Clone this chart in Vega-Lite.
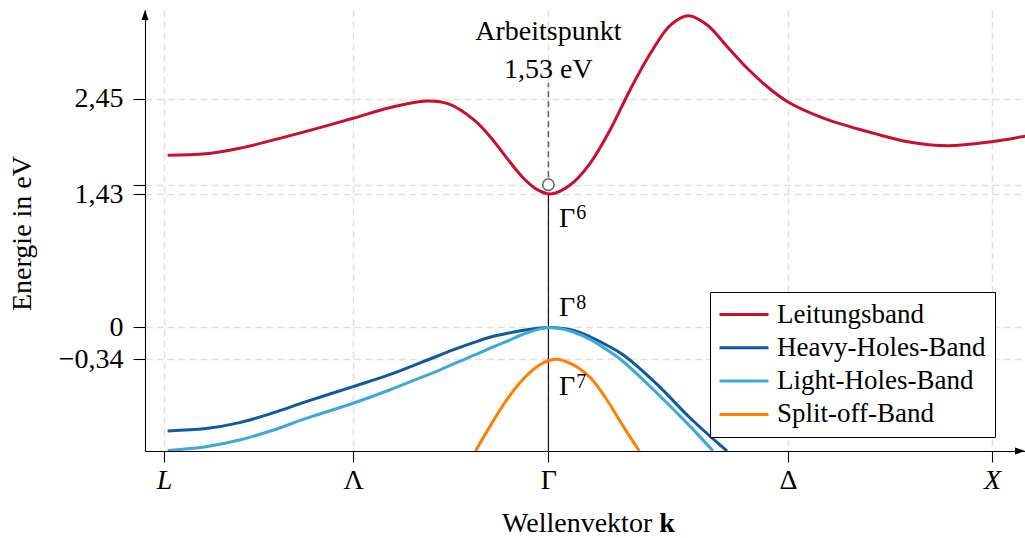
{
  "$schema": "https://vega.github.io/schema/vega-lite/v6.json",
  "width": 880,
  "height": 441,
  "autosize": {"type": "none"},
  "padding": {"left": 145, "top": 10, "right": 0, "bottom": 87},
  "background": "white",
  "config": {
    "font": "Liberation Serif",
    "view": {"stroke": null},
    "axis": {
      "domainColor": "black",
      "domainWidth": 1.1,
      "tickColor": "black",
      "tickWidth": 1.1,
      "gridColor": "#e0e0e0",
      "gridDash": [7, 4],
      "gridWidth": 1.5,
      "labelFont": "Liberation Serif",
      "labelFontSize": 28,
      "labelColor": "black",
      "labelBound": false,
      "labelFlush": false,
      "labelOverlap": false,
      "titleFont": "Liberation Serif",
      "titleFontSize": 28,
      "titleFontWeight": "normal",
      "titleColor": "black"
    }
  },
  "datasets": {
    "bands": [
      {"band": "Leitungsband", "k": -0.858, "E": 1.846},
      {"band": "Leitungsband", "k": -0.772, "E": 1.862},
      {"band": "Leitungsband", "k": -0.696, "E": 1.921},
      {"band": "Leitungsband", "k": -0.621, "E": 2.008},
      {"band": "Leitungsband", "k": -0.546, "E": 2.102},
      {"band": "Leitungsband", "k": -0.440, "E": 2.242},
      {"band": "Leitungsband", "k": -0.358, "E": 2.355},
      {"band": "Leitungsband", "k": -0.275, "E": 2.428},
      {"band": "Leitungsband", "k": -0.222, "E": 2.392},
      {"band": "Leitungsband", "k": -0.169, "E": 2.230},
      {"band": "Leitungsband", "k": -0.132, "E": 2.050},
      {"band": "Leitungsband", "k": -0.094, "E": 1.818},
      {"band": "Leitungsband", "k": -0.056, "E": 1.600},
      {"band": "Leitungsband", "k": -0.026, "E": 1.480},
      {"band": "Leitungsband", "k": 0.005, "E": 1.430},
      {"band": "Leitungsband", "k": 0.049, "E": 1.527},
      {"band": "Leitungsband", "k": 0.094, "E": 1.760},
      {"band": "Leitungsband", "k": 0.139, "E": 2.117},
      {"band": "Leitungsband", "k": 0.184, "E": 2.546},
      {"band": "Leitungsband", "k": 0.230, "E": 2.939},
      {"band": "Leitungsband", "k": 0.275, "E": 3.242},
      {"band": "Leitungsband", "k": 0.316, "E": 3.342},
      {"band": "Leitungsband", "k": 0.358, "E": 3.242},
      {"band": "Leitungsband", "k": 0.403, "E": 3.010},
      {"band": "Leitungsband", "k": 0.448, "E": 2.778},
      {"band": "Leitungsband", "k": 0.493, "E": 2.581},
      {"band": "Leitungsband", "k": 0.539, "E": 2.420},
      {"band": "Leitungsband", "k": 0.621, "E": 2.242},
      {"band": "Leitungsband", "k": 0.734, "E": 2.081},
      {"band": "Leitungsband", "k": 0.810, "E": 1.991},
      {"band": "Leitungsband", "k": 0.900, "E": 1.949},
      {"band": "Leitungsband", "k": 0.998, "E": 1.991},
      {"band": "Leitungsband", "k": 1.077, "E": 2.053},

      {"band": "Heavy-Holes-Band", "k": -0.858, "E": -1.109},
      {"band": "Heavy-Holes-Band", "k": -0.772, "E": -1.084},
      {"band": "Heavy-Holes-Band", "k": -0.696, "E": -1.020},
      {"band": "Heavy-Holes-Band", "k": -0.621, "E": -0.916},
      {"band": "Heavy-Holes-Band", "k": -0.546, "E": -0.795},
      {"band": "Heavy-Holes-Band", "k": -0.440, "E": -0.634},
      {"band": "Heavy-Holes-Band", "k": -0.358, "E": -0.506},
      {"band": "Heavy-Holes-Band", "k": -0.282, "E": -0.366},
      {"band": "Heavy-Holes-Band", "k": -0.207, "E": -0.227},
      {"band": "Heavy-Holes-Band", "k": -0.169, "E": -0.163},
      {"band": "Heavy-Holes-Band", "k": -0.132, "E": -0.105},
      {"band": "Heavy-Holes-Band", "k": -0.094, "E": -0.064},
      {"band": "Heavy-Holes-Band", "k": -0.056, "E": -0.029},
      {"band": "Heavy-Holes-Band", "k": -0.019, "E": -0.005},
      {"band": "Heavy-Holes-Band", "k": 0.0, "E": 0.0},
      {"band": "Heavy-Holes-Band", "k": 0.019, "E": -0.004},
      {"band": "Heavy-Holes-Band", "k": 0.056, "E": -0.030},
      {"band": "Heavy-Holes-Band", "k": 0.094, "E": -0.100},
      {"band": "Heavy-Holes-Band", "k": 0.132, "E": -0.190},
      {"band": "Heavy-Holes-Band", "k": 0.169, "E": -0.295},
      {"band": "Heavy-Holes-Band", "k": 0.245, "E": -0.610},
      {"band": "Heavy-Holes-Band", "k": 0.320, "E": -0.973},
      {"band": "Heavy-Holes-Band", "k": 0.4025, "E": -1.324},

      {"band": "Light-Holes-Band", "k": -0.858, "E": -1.318},
      {"band": "Light-Holes-Band", "k": -0.772, "E": -1.278},
      {"band": "Light-Holes-Band", "k": -0.696, "E": -1.206},
      {"band": "Light-Holes-Band", "k": -0.621, "E": -1.102},
      {"band": "Light-Holes-Band", "k": -0.546, "E": -0.975},
      {"band": "Light-Holes-Band", "k": -0.440, "E": -0.812},
      {"band": "Light-Holes-Band", "k": -0.358, "E": -0.670},
      {"band": "Light-Holes-Band", "k": -0.282, "E": -0.527},
      {"band": "Light-Holes-Band", "k": -0.245, "E": -0.456},
      {"band": "Light-Holes-Band", "k": -0.207, "E": -0.378},
      {"band": "Light-Holes-Band", "k": -0.169, "E": -0.300},
      {"band": "Light-Holes-Band", "k": -0.132, "E": -0.224},
      {"band": "Light-Holes-Band", "k": -0.094, "E": -0.150},
      {"band": "Light-Holes-Band", "k": -0.056, "E": -0.070},
      {"band": "Light-Holes-Band", "k": -0.019, "E": -0.015},
      {"band": "Light-Holes-Band", "k": 0.0, "E": 0.0},
      {"band": "Light-Holes-Band", "k": 0.019, "E": -0.006},
      {"band": "Light-Holes-Band", "k": 0.056, "E": -0.048},
      {"band": "Light-Holes-Band", "k": 0.094, "E": -0.128},
      {"band": "Light-Holes-Band", "k": 0.132, "E": -0.240},
      {"band": "Light-Holes-Band", "k": 0.169, "E": -0.367},
      {"band": "Light-Holes-Band", "k": 0.245, "E": -0.705},
      {"band": "Light-Holes-Band", "k": 0.320, "E": -1.063},
      {"band": "Light-Holes-Band", "k": 0.371, "E": -1.324},

      {"band": "Split-off-Band", "k": -0.164, "E": -1.324},
      {"band": "Split-off-Band", "k": -0.132, "E": -1.063},
      {"band": "Split-off-Band", "k": -0.094, "E": -0.777},
      {"band": "Split-off-Band", "k": -0.056, "E": -0.550},
      {"band": "Split-off-Band", "k": -0.019, "E": -0.400},
      {"band": "Split-off-Band", "k": 0.015, "E": -0.340},
      {"band": "Split-off-Band", "k": 0.056, "E": -0.400},
      {"band": "Split-off-Band", "k": 0.094, "E": -0.535},
      {"band": "Split-off-Band", "k": 0.132, "E": -0.777},
      {"band": "Split-off-Band", "k": 0.169, "E": -1.063},
      {"band": "Split-off-Band", "k": 0.205, "E": -1.324}
    ]
  },
  "layer": [
    {
      "data": {"values": [{}]},
      "mark": {"type": "rule", "color": "black", "strokeWidth": 1.1},
      "encoding": {
        "x": {"datum": 0, "type": "quantitative"},
        "y": {"datum": -1.324, "type": "quantitative"},
        "y2": {"datum": 1.43}
      }
    },
    {
      "data": {"name": "bands"},
      "mark": {"type": "line", "strokeWidth": 3, "interpolate": "catmull-rom", "clip": true},
      "encoding": {
        "x": {
          "field": "k",
          "type": "quantitative",
          "scale": {"domain": [-0.909, 1.074], "nice": false, "zero": false},
          "axis": {
            "title": null,
            "values": [-0.866, -0.44, 0, 0.54, 1],
            "grid": true,
            "tickSize": 11,
            "labelPadding": 4,
            "labelExpr": "datum.value < -0.6 ? 'L' : datum.value < -0.2 ? 'Λ' : datum.value < 0.2 ? 'Γ' : datum.value < 0.8 ? 'Δ' : 'X'",
            "labelFontStyle": {"condition": {"test": "datum.value < -0.6 || datum.value > 0.8", "value": "italic"}, "value": "normal"}
          }
        },
        "y": {
          "field": "E",
          "type": "quantitative",
          "scale": {"domain": [-1.324, 3.403], "nice": false, "zero": false},
          "axis": {
            "title": "Energie in eV",
            "titleX": -123,
            "titleY": 223,
            "titleAngle": 270,
            "titleAlign": "center",
            "titleBaseline": "middle",
            "values": [-0.34, 0, 1.43, 1.53, 2.45],
            "grid": true,
            "tickSize": 12,
            "labelPadding": 10,
            "labelExpr": "datum.value == 0 ? '0' : datum.value == 1.53 ? '' : replace(replace(format(datum.value, '.2f'), '.', ','), '-', '−')"
          }
        },
        "color": {
          "field": "band",
          "type": "nominal",
          "scale": {
            "domain": ["Leitungsband", "Heavy-Holes-Band", "Light-Holes-Band", "Split-off-Band"],
            "range": ["#c8102e", "#0e5a9c", "#3ea8da", "#ff8000"]
          },
          "legend": {
            "orient": "none",
            "legendX": 565,
            "legendY": 282,
            "title": null,
            "strokeColor": "black",
            "fillColor": "white",
            "padding": 9,
            "cornerRadius": 0,
            "labelFont": "Liberation Serif",
            "labelFontSize": 27,
            "labelColor": "black",
            "labelLimit": 400,
            "symbolType": "M-4.33,0H12",
            "symbolSize": 36,
            "symbolStrokeWidth": 3,
            "rowPadding": 5.3,
            "labelOffset": 31
          }
        }
      }
    },
    {
      "data": {"values": [{}]},
      "mark": {"type": "rule", "color": "#666666", "strokeWidth": 1.6, "strokeDash": [6, 4]},
      "encoding": {
        "x": {"datum": 0, "type": "quantitative"},
        "y": {"datum": 1.61, "type": "quantitative"},
        "y2": {"datum": 2.62}
      }
    },
    {
      "data": {"values": [{}]},
      "mark": {"type": "point", "shape": "circle", "size": 130, "filled": false, "fill": "white", "fillOpacity": 1, "stroke": "#666666", "strokeWidth": 1.6, "opacity": 1},
      "encoding": {
        "x": {"datum": 0, "type": "quantitative"},
        "y": {"datum": 1.53, "type": "quantitative"}
      }
    },
    {
      "data": {"values": [{}]},
      "mark": {"type": "text", "text": "Arbeitspunkt", "fontSize": 28, "align": "center", "baseline": "middle", "color": "black"},
      "encoding": {
        "x": {"datum": 0, "type": "quantitative"},
        "y": {"datum": 3.167, "type": "quantitative"}
      }
    },
    {
      "data": {"values": [{}]},
      "mark": {"type": "text", "text": "1,53 eV", "fontSize": 28, "align": "center", "baseline": "middle", "color": "black"},
      "encoding": {
        "x": {"datum": 0, "type": "quantitative"},
        "y": {"datum": 2.76, "type": "quantitative"}
      }
    },
    {
      "data": {"values": [{}]},
      "mark": {"type": "text", "text": "Γ", "fontSize": 28, "align": "left", "baseline": "middle", "color": "black"},
      "encoding": {"x": {"datum": 0.024, "type": "quantitative"}, "y": {"datum": 1.163, "type": "quantitative"}}
    },
    {
      "data": {"values": [{}]},
      "mark": {"type": "text", "text": "6", "fontSize": 20, "align": "left", "baseline": "middle", "color": "black"},
      "encoding": {"x": {"datum": 0.063, "type": "quantitative"}, "y": {"datum": 1.225, "type": "quantitative"}}
    },
    {
      "data": {"values": [{}]},
      "mark": {"type": "text", "text": "Γ", "fontSize": 28, "align": "left", "baseline": "middle", "color": "black"},
      "encoding": {"x": {"datum": 0.024, "type": "quantitative"}, "y": {"datum": 0.211, "type": "quantitative"}}
    },
    {
      "data": {"values": [{}]},
      "mark": {"type": "text", "text": "8", "fontSize": 20, "align": "left", "baseline": "middle", "color": "black"},
      "encoding": {"x": {"datum": 0.063, "type": "quantitative"}, "y": {"datum": 0.262, "type": "quantitative"}}
    },
    {
      "data": {"values": [{}]},
      "mark": {"type": "text", "text": "Γ", "fontSize": 28, "align": "left", "baseline": "middle", "color": "black"},
      "encoding": {"x": {"datum": 0.024, "type": "quantitative"}, "y": {"datum": -0.638, "type": "quantitative"}}
    },
    {
      "data": {"values": [{}]},
      "mark": {"type": "text", "text": "7", "fontSize": 20, "align": "left", "baseline": "middle", "color": "black"},
      "encoding": {"x": {"datum": 0.063, "type": "quantitative"}, "y": {"datum": -0.586, "type": "quantitative"}}
    },
    {
      "data": {"values": [{}]},
      "mark": {"type": "point", "shape": "M-0.7,2L0,0L0.7,2Z", "size": 100, "filled": true, "color": "black", "opacity": 1},
      "encoding": {"x": {"datum": -0.909, "type": "quantitative"}, "y": {"datum": 3.403, "type": "quantitative"}}
    },
    {
      "data": {"values": [{}]},
      "mark": {"type": "point", "shape": "M-2,-0.7L0,0L-2,0.7Z", "size": 100, "filled": true, "color": "black", "opacity": 1},
      "encoding": {"x": {"datum": 1.074, "type": "quantitative"}, "y": {"datum": -1.324, "type": "quantitative"}}
    },
    {
      "data": {"values": [{}]},
      "mark": {"type": "text", "text": "Wellenvektor", "fontSize": 28, "align": "right", "baseline": "alphabetic", "color": "black"},
      "encoding": {"x": {"datum": 0.234, "type": "quantitative"}, "y": {"datum": -2.192, "type": "quantitative"}}
    },
    {
      "data": {"values": [{}]},
      "mark": {"type": "text", "text": "k", "fontSize": 28, "fontWeight": "bold", "align": "left", "baseline": "alphabetic", "color": "black"},
      "encoding": {"x": {"datum": 0.25, "type": "quantitative"}, "y": {"datum": -2.192, "type": "quantitative"}}
    }
  ]
}
